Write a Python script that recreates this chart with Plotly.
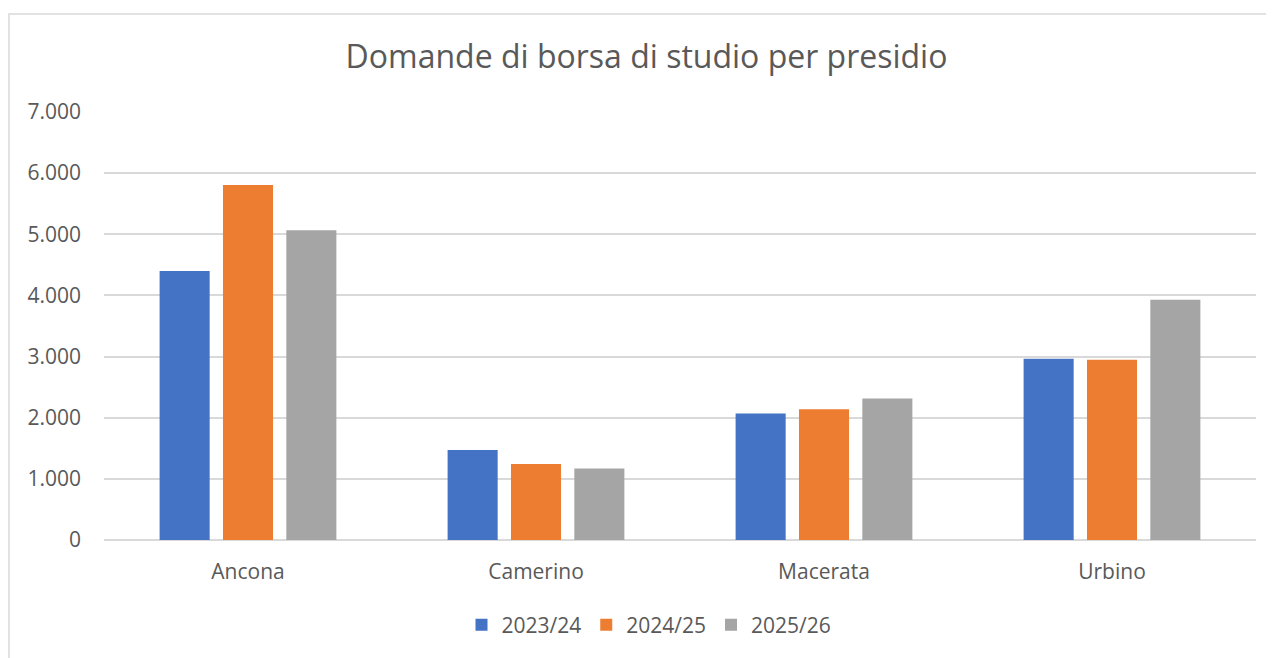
import plotly.graph_objects as go

categories = ["Ancona", "Camerino", "Macerata", "Urbino"]
series_names = ["2023/24", "2024/25", "2025/26"]
v_2023 = [4400, 1470, 2070, 2963]
v_2024 = [5805, 1243, 2140, 2946]
v_2025 = [5065, 1168, 2313, 3930]
colors = ["#4472C4", "#ED7D31", "#A5A5A5"]
tick_vals = [0, 1000, 2000, 3000, 4000, 5000, 6000, 7000]

FONT = "Open Sans"
TXT = "#595959"
OFF = 8  # browser body margin

fig = go.Figure()
for name, vals, col in zip(series_names, [v_2023, v_2024, v_2025], colors):
    fig.add_trace(go.Bar(x=categories, y=vals, name=name,
                         marker=dict(color=col, line=dict(width=0))))

W, H = 1274 - OFF, 658 - OFF
L, R, T, B = 104 - OFF, 18, 112 - OFF, 114
pw, ph = W - L - R, H - T - B
zero_y = T + ph + OFF  # viewport y of the zero line

fig.update_layout(
    width=W, height=H,
    margin=dict(l=L, r=R, t=T, b=B, pad=0),
    paper_bgcolor="white", plot_bgcolor="white",
    separators=",.",
    barmode="group", bargap=0.34, bargroupgap=0.21,
    font=dict(family=FONT, color=TXT, size=21),
    title=dict(text="Domande di borsa di studio per presidio",
               x=(646.5 - OFF) / W, xanchor="center",
               y=1 - (57 - OFF) / H, yanchor="middle",
               font=dict(family=FONT, size=32, color=TXT)),
    legend=dict(orientation="h", x=(649 - OFF - L) / pw, xanchor="center",
                y=-(630 - zero_y) / ph, yanchor="middle",
                font=dict(family=FONT, size=21, color=TXT),
                traceorder="normal"),
    xaxis=dict(showgrid=False, showline=False, ticks="", ticklabelstandoff=17,
               tickfont=dict(family=FONT, size=21, color=TXT)),
    yaxis=dict(range=[0, 7000], tickvals=tick_vals, tickformat=",d",
               showgrid=True, gridcolor="#D9D9D9", gridwidth=1.5,
               zeroline=True, zerolinecolor="#D9D9D9", zerolinewidth=1.5,
               showline=False, ticks="", ticklabelstandoff=22,
               tickfont=dict(family=FONT, size=21, color=TXT)),
    shapes=[dict(type="rect", xref="paper", yref="paper",
                 x0=(9 - OFF - L) / pw, x1=(W + 20 - L) / pw,
                 y0=-(H + 20 - (T + ph)) / ph, y1=(T + ph - (13 - OFF)) / ph,
                 line=dict(color="#D9D9D9", width=1.5),
                 fillcolor="rgba(0,0,0,0)", layer="below")],
)

fig.write_html("out.html")
